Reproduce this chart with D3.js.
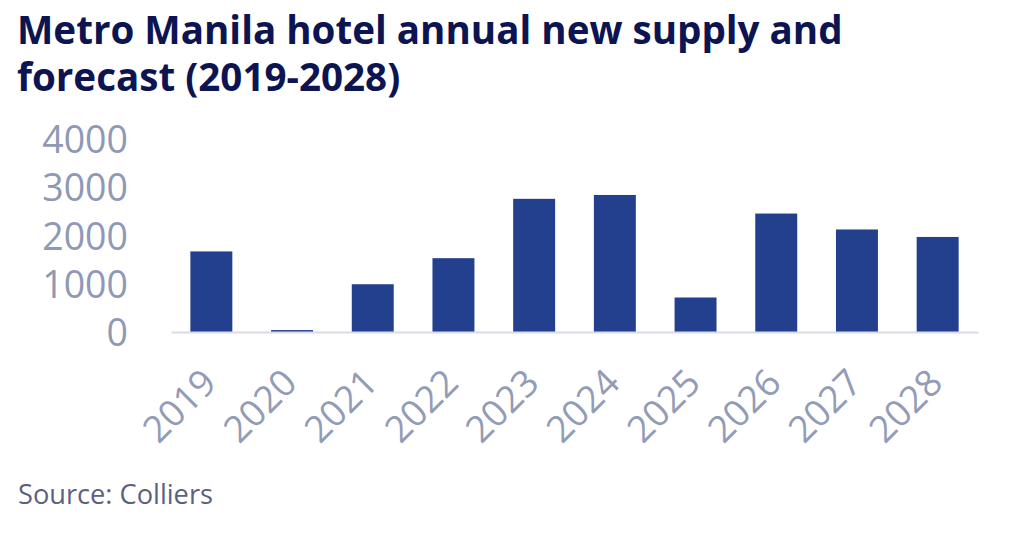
<!DOCTYPE html>
<html>
<head>
<meta charset="utf-8">
<script src="https://cdn.jsdelivr.net/npm/d3@7"></script>
<style>
  body { margin: 0; background: #fff; }
  svg { display: block; font-family: "Open Sans", sans-serif; }
</style>
</head>
<body>
<div id="chart"></div>
<script>
// Chart data
const years = ["2019", "2020", "2021", "2022", "2023", "2024", "2025", "2026", "2027", "2028"];
const newSupply = [1670, 40, 990, 1530, 2760, 2840, 715, 2455, 2125, 1970];
const yTicks = [0, 1000, 2000, 3000, 4000];
const titleLines = ["Metro Manila hotel annual new supply and", "forecast (2019-2028)"];
const sourceText = "Source: Colliers";

function drawChart() {
  const width = 1024, height = 537;
  const margin = { top: 139, right: 46, bottom: 205, left: 171 };
  const innerW = width - margin.left - margin.right;
  const innerH = height - margin.top - margin.bottom;

  const svg = d3.select("#chart")
      .append("svg")
      .attr("width", width)
      .attr("height", height);

  // Title
  svg.append("g")
      .selectAll("text")
      .data(titleLines)
      .join("text")
      .attr("x", 17)
      .attr("y", (d, i) => 44 + i * 47)
      .attr("fill", "#0d1452")
      .attr("font-size", 38.6)
      .attr("font-weight", 700)
      .text(d => d);

  const g = svg.append("g")
      .attr("transform", `translate(${margin.left},${margin.top})`);

  const x = d3.scaleBand()
      .domain(years)
      .range([0, innerW])
      .paddingInner(0.48)
      .paddingOuter(0.24);

  const y = d3.scaleLinear()
      .domain([0, 4000])
      .range([innerH, 0]);

  // Bars
  g.selectAll("rect.bar")
      .data(years.map((yr, i) => ({ year: yr, value: newSupply[i] })))
      .join("rect")
      .attr("class", "bar")
      .attr("x", d => x(d.year))
      .attr("width", x.bandwidth())
      .attr("y", d => y(d.value))
      .attr("height", d => innerH - y(d.value))
      .attr("fill", "#22408d");

  // Y axis (labels only)
  const yAxis = g.append("g")
      .attr("transform", "translate(-43,0)")
      .call(d3.axisLeft(y).tickValues(yTicks).tickFormat(d3.format("d")).tickSize(0).tickPadding(0));
  yAxis.select(".domain").remove();
  yAxis.selectAll("text")
      .attr("fill", "#8f98b4")
      .attr("font-size", 37.5)
      .attr("font-family", "Open Sans, sans-serif")
      .attr("dy", "0.36em");

  // X axis
  const xAxis = g.append("g")
      .attr("transform", `translate(0,${innerH})`)
      .call(d3.axisBottom(x).tickSize(0).tickPadding(0));
  xAxis.select(".domain")
      .attr("stroke", "#dadbe6")
      .attr("stroke-width", 2);
  xAxis.selectAll("text")
      .attr("fill", "#939cb7")
      .attr("font-size", 37)
      .attr("font-family", "Open Sans, sans-serif")
      .attr("text-anchor", "end")
      .attr("dy", 0)
      .attr("transform", "translate(7,53) rotate(-45)");

  // Source
  svg.append("text")
      .attr("x", 18)
      .attr("y", 504)
      .attr("fill", "#5b6181")
      .attr("font-size", 27.2)
      .text(sourceText);
}

drawChart();
</script>
</body>
</html>
